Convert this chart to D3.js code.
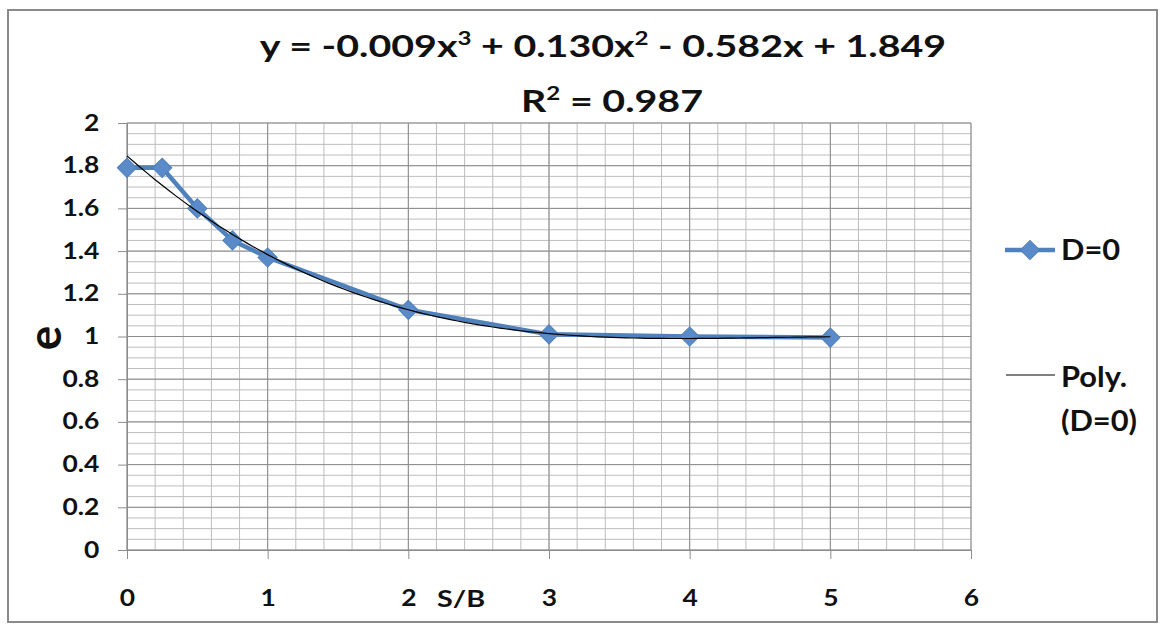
<!DOCTYPE html>
<html>
<head>
<meta charset="utf-8">
<script src="https://cdn.jsdelivr.net/npm/d3@7"></script>
<style>
  body { margin: 0; background: #fff; }
  svg { display: block; }
  text { font-family: Lato, "Open Sans", sans-serif; font-weight: bold; fill: #111; }
</style>
</head>
<body>
<script>
// data
const sb = [0, 0.25, 0.5, 0.75, 1, 2, 3, 4, 5];
const e = [1.79, 1.79, 1.60, 1.45, 1.37, 1.125, 1.01, 1.0, 0.995];
const xTicks = [0, 1, 2, 3, 4, 5, 6];
const yTicks = [0, 0.2, 0.4, 0.6, 0.8, 1, 1.2, 1.4, 1.6, 1.8, 2];
const yTickLabels = ["0", "0.2", "0.4", "0.6", "0.8", "1", "1.2", "1.4", "1.6", "1.8", "2"];
const seriesName = "D=0";
const trendName = ["Poly.", "(D=0)"];

const w = 1167, h = 625;
const blue = "#4f81bd";
const sx = 1.2; // the source text is drawn a bit wide

const svg = d3.select("body").append("svg")
  .attr("width", w)
  .attr("height", h);

// outer frame
svg.append("rect")
  .attr("x", 8).attr("y", 10)
  .attr("width", 1149).attr("height", 612)
  .attr("fill", "none")
  .attr("stroke", "#8a8a8a")
  .attr("stroke-width", 2);

const x = d3.scaleLinear().domain([0, 6]).range([127, 971]);
const y = d3.scaleLinear().domain([0, 2]).range([550, 123]);

// grid
const grid = svg.append("g");
grid.selectAll(".hminor")
  .data(y.ticks(50))
  .enter().append("line")
  .attr("x1", x(0)).attr("x2", x(6))
  .attr("y1", d => y(d)).attr("y2", d => y(d))
  .attr("stroke", "#bdbdbd").attr("stroke-width", 1);
grid.selectAll(".vminor")
  .data(x.ticks(30))
  .enter().append("line")
  .attr("x1", d => x(d)).attr("x2", d => x(d))
  .attr("y1", y(0)).attr("y2", y(2))
  .attr("stroke", "#bdbdbd").attr("stroke-width", 1);
grid.selectAll(".hmajor")
  .data(yTicks)
  .enter().append("line")
  .attr("x1", x(0)).attr("x2", x(6))
  .attr("y1", d => y(d)).attr("y2", d => y(d))
  .attr("stroke", "#8c8c8c").attr("stroke-width", 1);
grid.selectAll(".vmajor")
  .data(xTicks)
  .enter().append("line")
  .attr("x1", d => x(d)).attr("x2", d => x(d))
  .attr("y1", y(0)).attr("y2", y(2))
  .attr("stroke", "#8c8c8c").attr("stroke-width", 1);

// axes
const yAxis = d3.axisLeft(y)
  .tickValues(yTicks)
  .tickSize(9)
  .tickPadding(14)
  .tickFormat((d, i) => yTickLabels[i]);
const yAxisG = svg.append("g")
  .attr("transform", `translate(${x(0)},0)`)
  .call(yAxis);

const xAxis = d3.axisBottom(x)
  .tickValues(xTicks)
  .tickSize(9)
  .tickPadding(31)
  .tickFormat(d3.format("d"));
const xAxisG = svg.append("g")
  .attr("transform", `translate(0,${y(0)})`)
  .call(xAxis);

[yAxisG, xAxisG].forEach(g => {
  g.select(".domain").attr("stroke", "#8c8c8c");
  g.selectAll(".tick line").attr("stroke", "#8c8c8c");
  g.selectAll("text")
    .style("font-family", "Lato, 'Open Sans', sans-serif")
    .style("font-weight", "bold")
    .style("font-size", "22px")
    .attr("fill", "#111")
    .attr("transform", `scale(${sx},1)`);
});

// axis titles
svg.append("text")
  .text("S/B")
  .attr("transform", `translate(437,607) scale(1.25,1)`)
  .style("font-size", "23px");

svg.append("text")
  .text("e")
  .attr("transform", "translate(61,338) rotate(-90)")
  .attr("text-anchor", "middle")
  .style("font-size", "46px");

// data series
const line = d3.line()
  .x((d, i) => x(sb[i]))
  .y(d => y(d));

svg.append("path")
  .datum(e)
  .attr("d", line)
  .attr("fill", "none")
  .attr("stroke", blue)
  .attr("stroke-width", 4.5)
  .attr("stroke-linejoin", "round");

const diamond = d3.symbol().type(d3.symbolSquare).size(185);
svg.selectAll(".marker")
  .data(e)
  .enter().append("path")
  .attr("d", diamond)
  .attr("transform", (d, i) => `translate(${x(sb[i])},${y(d)}) rotate(45)`)
  .attr("fill", "#5a8bc8")
  .attr("stroke", blue)
  .attr("stroke-width", 1);

// cubic least-squares trend line fitted to the series
function polyFit(xs, ys, deg) {
  const n = deg + 1;
  const A = d3.range(n).map(() => new Array(n + 1).fill(0));
  xs.forEach((xv, k) => {
    for (let i = 0; i < n; i++) {
      for (let j = 0; j < n; j++) A[i][j] += Math.pow(xv, i + j);
      A[i][n] += ys[k] * Math.pow(xv, i);
    }
  });
  for (let c = 0; c < n; c++) {
    let p = c;
    for (let r = c + 1; r < n; r++) if (Math.abs(A[r][c]) > Math.abs(A[p][c])) p = r;
    [A[c], A[p]] = [A[p], A[c]];
    for (let r = 0; r < n; r++) {
      if (r === c) continue;
      const f = A[r][c] / A[c][c];
      for (let k = c; k <= n; k++) A[r][k] -= f * A[c][k];
    }
  }
  return d3.range(n).map(i => A[i][n] / A[i][i]);
}
const fit = polyFit(sb, e, 3);
const poly = t => fit.reduce((s, c, i) => s + c * Math.pow(t, i), 0);
const trendX = x.ticks(100).filter(t => t <= 5);
svg.append("path")
  .datum(trendX)
  .attr("d", d3.line().x(t => x(t)).y(t => y(poly(t))))
  .attr("fill", "none")
  .attr("stroke", "#000")
  .attr("stroke-width", 1.2);

// equation title
const t1 = svg.append("text")
  .attr("transform", `translate(603,57) scale(1.27,1)`)
  .attr("text-anchor", "middle")
  .style("font-size", "31px");
t1.append("tspan").text("y = -0.009x");
t1.append("tspan").text("3").attr("dy", -12).style("font-size", "19px");
t1.append("tspan").text(" + 0.130x").attr("dy", 12);
t1.append("tspan").text("2").attr("dy", -12).style("font-size", "19px");
t1.append("tspan").text(" - 0.582x + 1.849").attr("dy", 12);

const t2 = svg.append("text")
  .attr("transform", `translate(612,112) scale(1.27,1)`)
  .attr("text-anchor", "middle")
  .style("font-size", "31px");
t2.append("tspan").text("R");
t2.append("tspan").text("2").attr("dy", -12).style("font-size", "19px");
t2.append("tspan").text(" = 0.987").attr("dy", 12);

// legend
const lg = svg.append("g");
lg.append("line")
  .attr("x1", 1005).attr("x2", 1055)
  .attr("y1", 250).attr("y2", 250)
  .attr("stroke", blue).attr("stroke-width", 4.5);
lg.append("path")
  .attr("d", diamond)
  .attr("transform", "translate(1030,250) rotate(45)")
  .attr("fill", "#5a8bc8")
  .attr("stroke", blue);
lg.append("text").text(seriesName)
  .attr("transform", "translate(1061,260) scale(1.1,1)")
  .style("font-size", "28px");

lg.append("line")
  .attr("x1", 1006).attr("x2", 1055)
  .attr("y1", 375).attr("y2", 375)
  .attr("stroke", "#000").attr("stroke-width", 1.2);
lg.selectAll(".trendName")
  .data(trendName)
  .enter().append("text")
  .text(d => d)
  .attr("transform", (d, i) => `translate(1061,${387 + i * 44}) scale(1.1,1)`)
  .style("font-size", "28px");
</script>
</body>
</html>
